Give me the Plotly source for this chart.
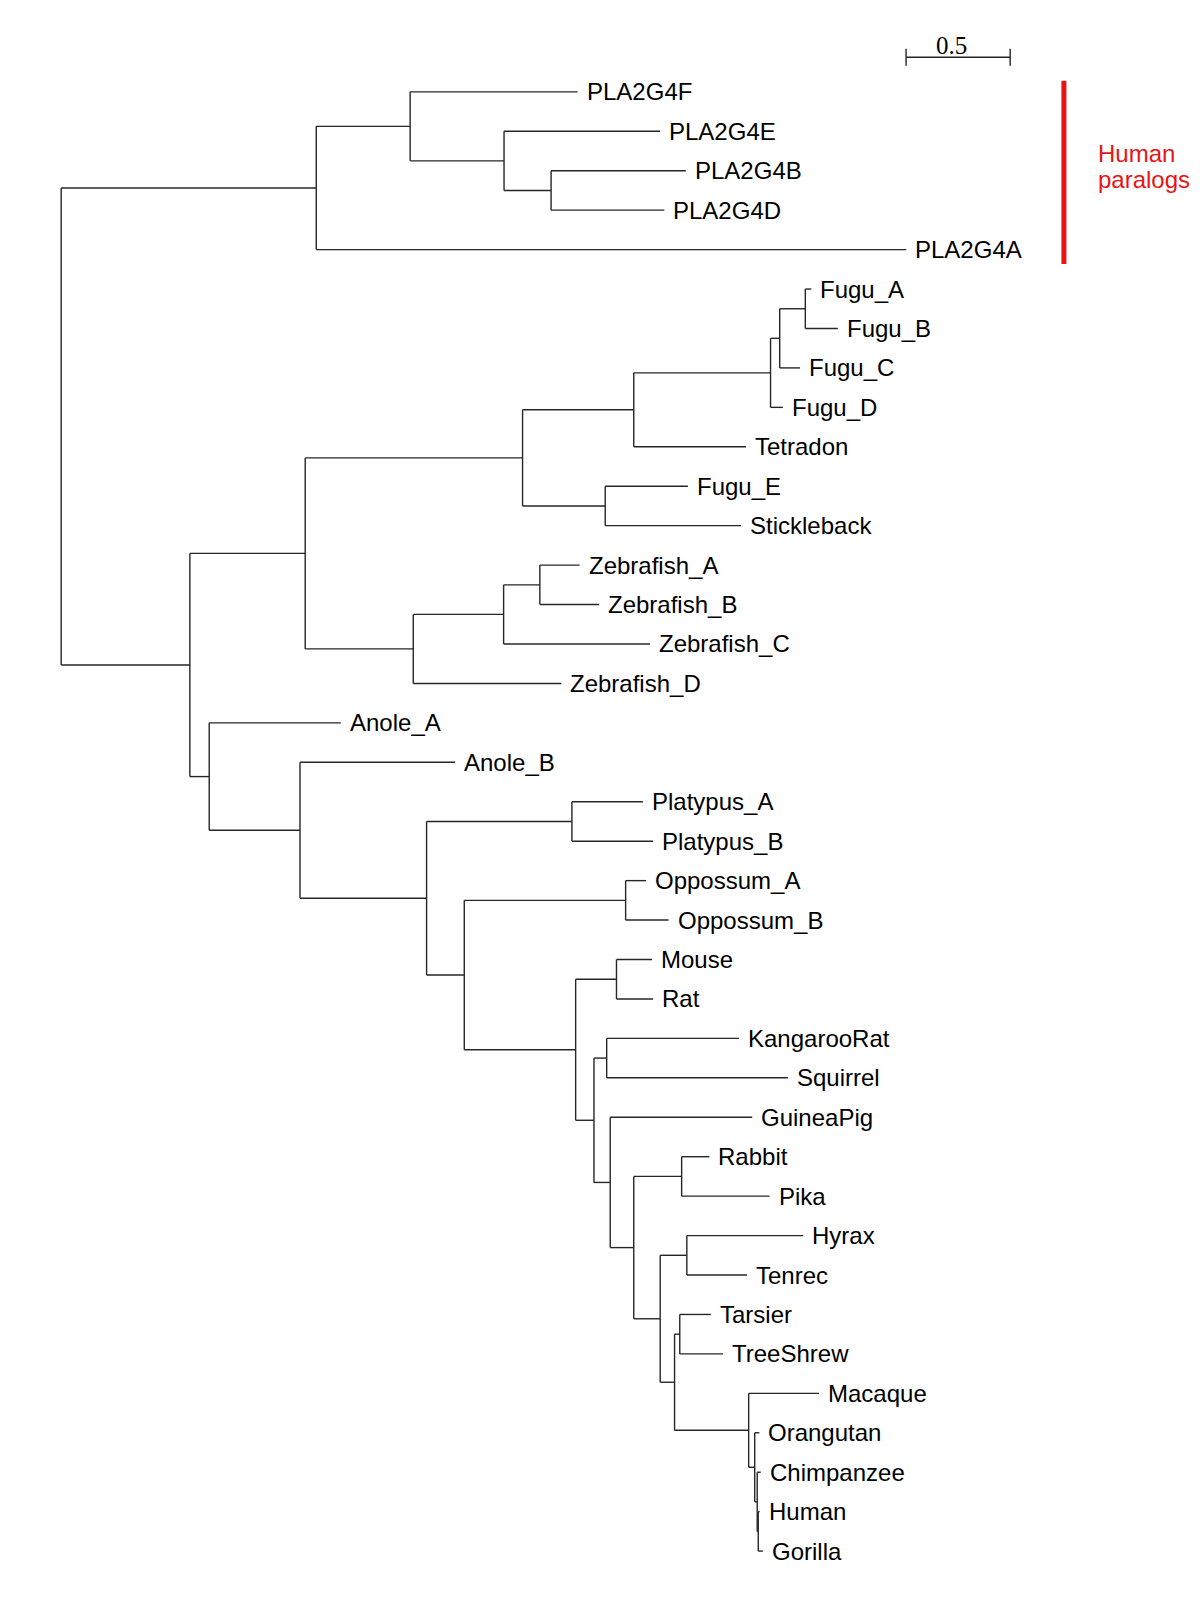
import plotly.graph_objects as go

# ---------------- data ----------------
# leaves, top to bottom: name, parent node, distance from root (substitutions/site)
leaf_names = [
    "PLA2G4F", "PLA2G4E", "PLA2G4B", "PLA2G4D", "PLA2G4A",
    "Fugu_A", "Fugu_B", "Fugu_C", "Fugu_D", "Tetradon", "Fugu_E", "Stickleback",
    "Zebrafish_A", "Zebrafish_B", "Zebrafish_C", "Zebrafish_D",
    "Anole_A", "Anole_B", "Platypus_A", "Platypus_B", "Oppossum_A", "Oppossum_B",
    "Mouse", "Rat", "KangarooRat", "Squirrel", "GuineaPig", "Rabbit", "Pika",
    "Hyrax", "Tenrec", "Tarsier", "TreeShrew", "Macaque", "Orangutan",
    "Chimpanzee", "Human", "Gorilla",
]
leaf_parents = [
    "n_F_EBD", "n_E_BD", "n_BD", "n_BD", "paralogs",
    "fugu_AB", "fugu_AB", "fugu_ABC", "fugu_ABCD", "fugu_tetra", "fuguE_stick", "fuguE_stick",
    "zebra_AB", "zebra_AB", "zebra_ABC", "zebra",
    "tetrapod", "amniote", "platypus", "platypus", "opossum", "opossum",
    "murid", "murid", "kr_sq", "kr_sq", "n_gp", "lago", "lago",
    "afro", "afro", "tar_ts", "tar_ts", "primates", "apes",
    "chimp_hg", "hum_gor", "hum_gor",
]
leaf_depths = [
    2.480, 2.877, 3.000, 2.897, 4.059,
    3.603, 3.730, 3.549, 3.466, 3.289, 3.010, 3.265,
    2.490, 2.583, 2.828, 2.402,
    1.343, 1.892, 2.794, 2.843, 2.809, 2.917,
    2.838, 2.843, 3.255, 3.490, 3.319, 3.113, 3.402,
    3.564, 3.294, 3.120, 3.179, 3.640, 3.353,
    3.360, 3.355, 3.370,
]

# internal nodes: name, parent, distance from root
node_names = [
    "root", "paralogs", "n_F_EBD", "n_E_BD", "n_BD",
    "vert", "fish", "acanth", "fugu_tetra", "fugu_ABCD", "fugu_ABC", "fugu_AB",
    "fuguE_stick", "zebra", "zebra_ABC", "zebra_AB",
    "tetrapod", "amniote", "mammal", "platypus", "theria", "opossum", "eutheria",
    "murid", "n_rod", "kr_sq", "n_gp", "n_lago_rest", "lago", "n_afro_prim",
    "afro", "n_tar_prim", "tar_ts", "primates", "apes", "chimp_hg", "hum_gor",
]
node_parents = [
    None, "root", "paralogs", "n_F_EBD", "n_E_BD",
    "root", "vert", "fish", "acanth", "fugu_tetra", "fugu_ABCD", "fugu_ABC",
    "acanth", "fish", "zebra", "zebra_ABC",
    "vert", "tetrapod", "amniote", "mammal", "mammal", "theria", "theria",
    "eutheria", "eutheria", "n_rod", "n_rod", "n_gp", "n_lago_rest", "n_lago_rest",
    "n_afro_prim", "n_afro_prim", "n_tar_prim", "n_tar_prim", "primates", "apes", "chimp_hg",
]
node_depths = [
    0.000, 1.225, 1.676, 2.127, 2.353,
    0.618, 1.172, 2.216, 2.750, 3.407, 3.451, 3.574,
    2.613, 1.691, 2.125, 2.299,
    0.711, 1.147, 1.755, 2.453, 1.936, 2.711, 2.471,
    2.667, 2.559, 2.620, 2.637, 2.750, 2.980, 2.877,
    3.005, 2.946, 2.971, 3.302, 3.331, 3.343, 3.348,
]

scale_bar_length = 0.5
scale_bar_label = "0.5"
group_label_lines = ["Human", "paralogs"]
group_leaves = ["PLA2G4F", "PLA2G4E", "PLA2G4B", "PLA2G4D", "PLA2G4A"]

# ---------------- tree geometry ----------------
parent = dict(zip(leaf_names, leaf_parents))
parent.update(zip(node_names, node_parents))
depth = dict(zip(leaf_names, leaf_depths))
depth.update(zip(node_names, node_depths))
children = {n: [] for n in node_names}
for c, p in parent.items():
    if p is not None:
        children[p].append(c)

ypos = {n: i for i, n in enumerate(leaf_names)}


def get_y(n):
    if n not in ypos:
        cy = [get_y(c) for c in children[n]]
        ypos[n] = (min(cy) + max(cy)) / 2.0
    return ypos[n]


get_y("root")

xs, ys = [], []
for n, p in parent.items():
    if p is None:
        continue
    xs += [depth[p], depth[n], None]
    ys += [ypos[n], ypos[n], None]
for n in node_names:
    cy = [ypos[c] for c in children[n]]
    xs += [depth[n], depth[n], None]
    ys += [min(cy), max(cy), None]

LINE = "#262626"
fig = go.Figure()
fig.add_trace(go.Scatter(x=xs, y=ys, mode="lines",
                         line=dict(color=LINE, width=1.4),
                         hoverinfo="skip", showlegend=False))

# leaf labels
annotations = []
for n in leaf_names:
    annotations.append(dict(
        x=depth[n], y=ypos[n], text=n, showarrow=False,
        xanchor="left", yanchor="middle", xshift=7,
        font=dict(family="Liberation Sans, Arial, sans-serif", size=24, color="#000"),
    ))

# scale bar
sb_x0 = 4.058
sb_y = -0.876
tick = 0.215
fig.add_trace(go.Scatter(
    x=[sb_x0, sb_x0 + scale_bar_length, None, sb_x0, sb_x0, None,
       sb_x0 + scale_bar_length, sb_x0 + scale_bar_length],
    y=[sb_y, sb_y, None, sb_y - tick, sb_y + tick, None, sb_y - tick, sb_y + tick],
    mode="lines", line=dict(color=LINE, width=1.4),
    hoverinfo="skip", showlegend=False))
annotations.append(dict(
    x=sb_x0 + scale_bar_length / 2 - 0.03, y=-1.18, text=scale_bar_label, showarrow=False,
    xanchor="center", yanchor="middle",
    font=dict(family="Liberation Serif, Times New Roman, serif", size=25, color="#000"),
))

# human paralogs bracket
g_idx = [ypos[n] for n in group_leaves]
bar_x = 4.816
fig.add_trace(go.Scatter(
    x=[bar_x, bar_x], y=[min(g_idx) - 0.28, max(g_idx) + 0.365],
    mode="lines", line=dict(color="#e81414", width=5),
    hoverinfo="skip", showlegend=False))
for k, txt in enumerate(group_label_lines):
    annotations.append(dict(
        x=bar_x + 0.155, y=1.551 + 0.684 * k, text=txt, showarrow=False,
        xanchor="left", yanchor="middle",
        font=dict(family="Liberation Sans, Arial, sans-serif", size=24, color="#e81414"),
    ))

fig.update_layout(
    width=1200, height=1600,
    margin=dict(l=0, r=0, t=0, b=0),
    paper_bgcolor="white", plot_bgcolor="white",
    annotations=annotations,
    xaxis=dict(visible=False, range=[-0.2939, 5.4697], fixedrange=True),
    yaxis=dict(visible=False, range=[38.240, -2.3286], fixedrange=True),
    showlegend=False,
)

fig.write_html("out.html", config={"displayModeBar": False},
               post_script="document.body.style.margin='0';")
